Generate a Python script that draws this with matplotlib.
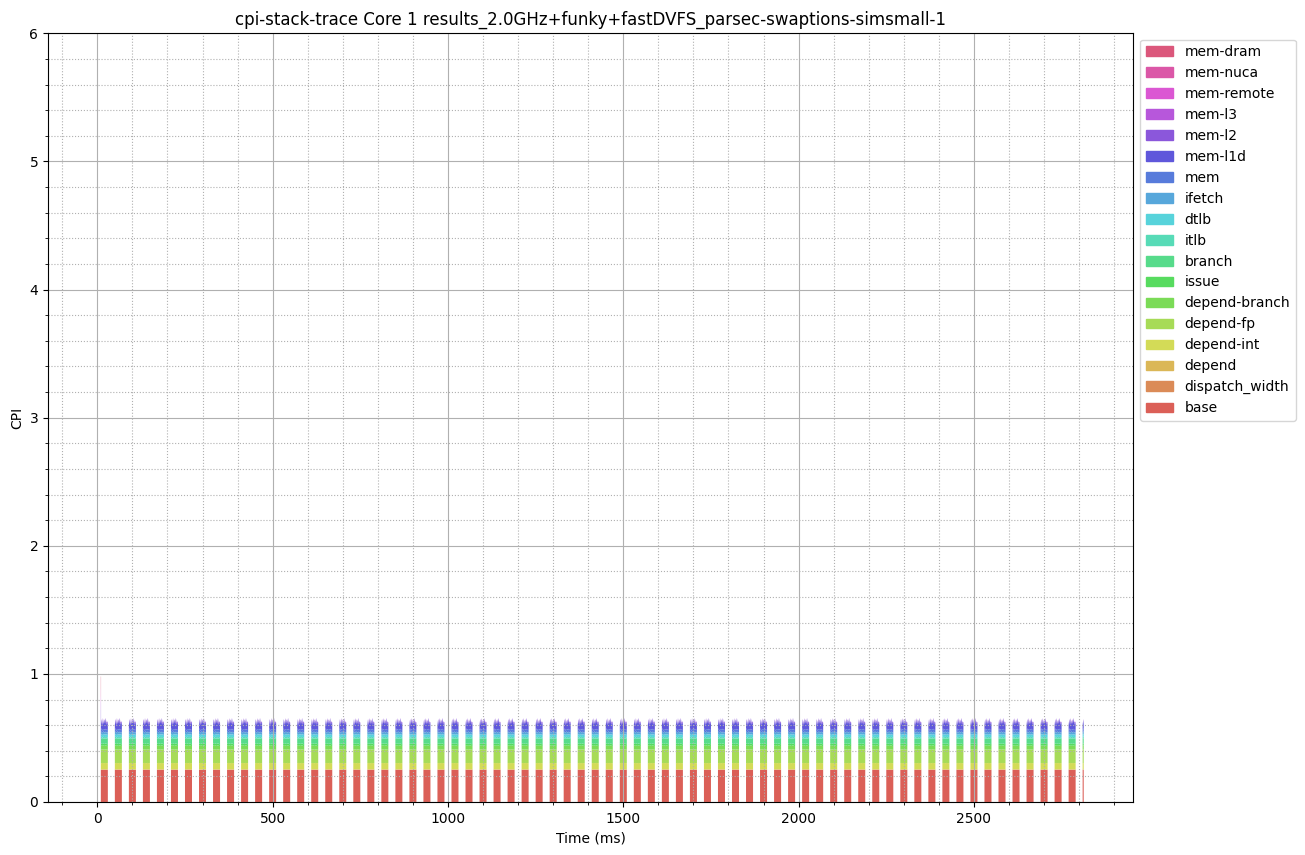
import numpy as np
import matplotlib
matplotlib.use('Agg')
import matplotlib.pyplot as plt
import seaborn as sns
from matplotlib.patches import Rectangle
from matplotlib.ticker import MultipleLocator

# CPI components, bottom of the stack first
components = ['base', 'dispatch_width', 'depend', 'depend-int', 'depend-fp',
              'depend-branch', 'issue', 'branch', 'itlb', 'dtlb', 'ifetch',
              'mem', 'mem-l1d', 'mem-l2', 'mem-l3', 'mem-remote', 'mem-nuca',
              'mem-dram']

# burst schedule (ms): active phases of the core
burst_starts = list(range(10, 2800, 40)) + [2810]
burst_lens = [20] * 70 + [3]

# CPI per component inside one burst, sampled every 2 ms
burst_profile = {
    'base':           [0.25, 0.25, 0.25, 0.25, 0.25, 0.25, 0.25, 0.25, 0.25, 0.25, 0.25],
    'dispatch_width': [0.002, 0.002, 0.002, 0.002, 0.002, 0.002, 0.002, 0.002, 0.002, 0.002, 0.002],
    'depend':         [0.004, 0.004, 0.004, 0.004, 0.004, 0.004, 0.004, 0.004, 0.004, 0.004, 0.004],
    'depend-int':     [0.048, 0.047, 0.049, 0.048, 0.048, 0.047, 0.049, 0.048, 0.048, 0.047, 0.048],
    'depend-fp':      [0.105, 0.107, 0.104, 0.106, 0.105, 0.104, 0.107, 0.105, 0.106, 0.104, 0.105],
    'depend-branch':  [0.030, 0.031, 0.029, 0.030, 0.031, 0.030, 0.029, 0.031, 0.030, 0.029, 0.030],
    'issue':          [0.015, 0.016, 0.014, 0.015, 0.016, 0.015, 0.014, 0.016, 0.015, 0.014, 0.015],
    'branch':         [0.040, 0.042, 0.038, 0.041, 0.040, 0.043, 0.039, 0.041, 0.040, 0.042, 0.039],
    'itlb':           [0.012, 0.012, 0.011, 0.012, 0.013, 0.012, 0.011, 0.012, 0.012, 0.013, 0.012],
    'dtlb':           [0.020, 0.021, 0.019, 0.020, 0.022, 0.020, 0.019, 0.021, 0.020, 0.019, 0.020],
    'ifetch':         [0.018, 0.019, 0.017, 0.018, 0.019, 0.018, 0.017, 0.019, 0.018, 0.017, 0.018],
    'mem':            [0.020, 0.024, 0.018, 0.022, 0.019, 0.025, 0.020, 0.023, 0.018, 0.022, 0.020],
    'mem-l1d':        [0.035, 0.060, 0.045, 0.070, 0.040, 0.065, 0.050, 0.075, 0.040, 0.060, 0.045],
    'mem-l2':         [0.005, 0.012, 0.008, 0.015, 0.006, 0.010, 0.012, 0.008, 0.014, 0.007, 0.010],
    'mem-l3':         [0.000, 0.001, 0.000, 0.002, 0.000, 0.001, 0.000, 0.001, 0.002, 0.000, 0.001],
    'mem-remote':     [0.0, 0.0, 0.0, 0.0, 0.0, 0.0, 0.0, 0.0, 0.0, 0.0, 0.0],
    'mem-nuca':       [0.0, 0.0, 0.0, 0.0, 0.0, 0.0, 0.0, 0.0, 0.0, 0.0, 0.0],
    'mem-dram':       [0.0, 0.0, 0.0, 0.0, 0.0, 0.0, 0.0, 0.0, 0.0, 0.0, 0.0],
}
profile_times = [0, 2, 4, 6, 8, 10, 12, 14, 16, 18, 20]

# short start-up spike at the beginning of the first burst
spike_time = [10.0, 10.6]
spike_values = {
    'base': 0.25, 'depend-int': 0.05, 'depend-fp': 0.10, 'branch': 0.04,
    'mem': 0.05, 'mem-l1d': 0.15, 'mem-l2': 0.08, 'mem-l3': 0.06,
    'mem-remote': 0.04, 'mem-nuca': 0.06, 'mem-dram': 0.10,
}

title = 'cpi-stack-trace Core 1 results_2.0GHz+funky+fastDVFS_parsec-swaptions-simsmall-1'


def add_point(times, values, t, getter):
    times.append(t)
    for c in components:
        values[c].append(getter(c))


def build_series():
    times = []
    values = {c: [] for c in components}
    add_point(times, values, 0.0, lambda c: 0.0)
    add_point(times, values, spike_time[0] - 0.01, lambda c: 0.0)
    for t in spike_time:
        add_point(times, values, t, lambda c: spike_values.get(c, 0.0))
    for start, length in zip(burst_starts, burst_lens):
        if start > spike_time[-1]:
            add_point(times, values, start - 0.01, lambda c: 0.0)
        for i, dt in enumerate(profile_times):
            if dt > length:
                break
            t = start + dt
            if t <= spike_time[-1]:
                t = spike_time[-1] + 0.01
            add_point(times, values, t, lambda c: burst_profile[c][i])
        if length not in profile_times:
            add_point(times, values, start + length, lambda c: burst_profile[c][0])
        add_point(times, values, start + length + 0.01, lambda c: 0.0)
    return np.array(times), [np.array(values[c]) for c in components]


colors = sns.color_palette('hls', len(components))

fig = plt.figure(figsize=(13.05, 8.55), dpi=100)
ax = fig.add_axes([0.0368, 0.062, 0.8314, 0.899])

times, ys = build_series()
ax.stackplot(times, *ys, colors=colors, linewidth=0)

ax.set_ylim(0, 6)
ax.set_xlim(-140.6, 2953.6)
ax.xaxis.set_major_locator(MultipleLocator(500))
ax.xaxis.set_minor_locator(MultipleLocator(100))
ax.yaxis.set_major_locator(MultipleLocator(1))
ax.yaxis.set_minor_locator(MultipleLocator(0.2))
ax.grid(True, which='major', color='#b0b0b0', linestyle='-', linewidth=0.8)
ax.grid(True, which='minor', color='#b0b0b0', linestyle=':', linewidth=0.8)

ax.set_title(title)
ax.set_xlabel('Time (ms)')
ax.set_ylabel('CPI')

handles = [Rectangle((0, 0), 1, 1, color=colors[i]) for i in range(len(components))][::-1]
ax.legend(handles, components[::-1], loc='upper left', bbox_to_anchor=(1.0, 1.001))

fig.savefig('out.png', dpi=100)
